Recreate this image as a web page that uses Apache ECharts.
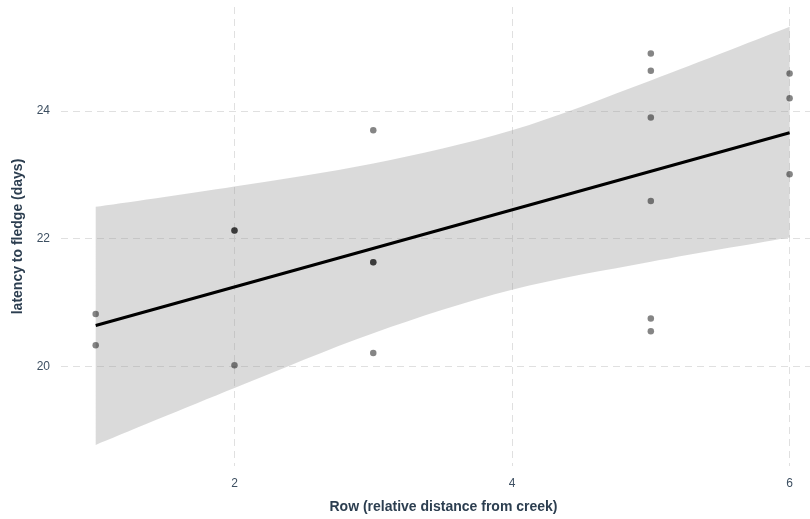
<!DOCTYPE html>
<html>
<head>
<meta charset="utf-8">
<script src="https://cdn.jsdelivr.net/npm/echarts@6/dist/echarts.min.js"></script>
<style>
html,body{margin:0;padding:0;background:#fff;}
#chart{width:810px;height:519px;}
</style>
</head>
<body>
<div id="chart"></div>
<script>
// Observations: row (x) and latency to fledge in days (y)
const rowX = [1, 1, 2, 2, 2, 3, 3, 3, 3, 5, 5, 5, 5, 5, 5, 6, 6, 6];
const latency = [20.82, 20.33, 22.13, 22.13, 20.02, 23.70, 21.63, 21.63, 20.21,
                 24.90, 24.63, 23.90, 22.59, 20.75, 20.55, 24.59, 24.20, 23.01];
// Fitted line endpoints
const fitX = [1, 6];
const fitY = [20.64, 23.66];
// Confidence band edges
const bandX = [1, 2, 3, 4, 5, 6];
const bandUpper = [22.50, 22.82, 23.18, 23.70, 24.48, 25.32];
const bandLower = [18.77, 19.66, 20.52, 21.20, 21.64, 22.02];
// Tick labels
const xTicks = [2, 4, 6];
const yTicks = [20, 22, 24];

const titleColor = '#2c3e50';
const tickColor = '#3d4f61';
const gridStyle = { color: '#e0e0e0', width: 1, type: [7, 5] };

const chart = echarts.init(document.getElementById('chart'), null, { renderer: 'canvas' });

const bandData = bandX.map((x, i) => [x, bandLower[i], bandUpper[i]]);

// smooth (Catmull-Rom style) path through pixel points
function curveThrough(pts) {
  let d = '';
  for (let i = 0; i < pts.length - 1; i++) {
    const p0 = pts[Math.max(i - 1, 0)], p1 = pts[i], p2 = pts[i + 1], p3 = pts[Math.min(i + 2, pts.length - 1)];
    const c1 = [p1[0] + (p2[0] - p0[0]) / 6, p1[1] + (p2[1] - p0[1]) / 6];
    const c2 = [p2[0] - (p3[0] - p1[0]) / 6, p2[1] - (p3[1] - p1[1]) / 6];
    d += ' C' + c1[0] + ' ' + c1[1] + ' ' + c2[0] + ' ' + c2[1] + ' ' + p2[0] + ' ' + p2[1];
  }
  return d;
}

const option = {
  animation: false,
  textStyle: { fontFamily: 'Liberation Sans, Arial, sans-serif' },
  grid: { left: 61, top: 7, right: 0, bottom: 52, containLabel: false },
  xAxis: {
    type: 'value', min: 0.75, max: 6.147,
    name: 'Row (relative distance from creek)',
    nameLocation: 'middle', nameGap: 34,
    nameTextStyle: { color: titleColor, fontSize: 14, fontWeight: 'bold', verticalAlign: 'top', padding: [0, 0, 0, 16] },
    axisLine: { show: false },
    axisTick: { show: false, customValues: xTicks },
    axisLabel: { customValues: xTicks, color: tickColor, fontSize: 12, margin: 12 },
    splitLine: { show: true, lineStyle: gridStyle }
  },
  yAxis: {
    type: 'value', min: 18.44, max: 25.63,
    name: 'latency to fledge (days)',
    nameLocation: 'middle', nameGap: 36,
    nameTextStyle: { color: titleColor, fontSize: 14, fontWeight: 'bold' },
    axisLine: { show: false },
    axisTick: { show: false, customValues: yTicks },
    axisLabel: { customValues: yTicks, color: tickColor, fontSize: 12, margin: 11 },
    splitLine: { show: true, lineStyle: gridStyle }
  },
  series: [
    {
      type: 'custom',
      z: 2,
      silent: true,
      clip: true,
      data: bandData,
      renderItem: function (params, api) {
        if (params.dataIndex !== 0) return;
        const up = bandData.map(d => api.coord([d[0], d[2]]));
        const lo = bandData.slice().reverse().map(d => api.coord([d[0], d[1]]));
        const pathData = 'M' + up[0][0] + ' ' + up[0][1] + curveThrough(up) +
          ' L' + lo[0][0] + ' ' + lo[0][1] + curveThrough(lo) + ' Z';
        return {
          type: 'path',
          shape: { pathData: pathData },
          style: { fill: 'rgba(153,153,153,0.36)', stroke: null }
        };
      }
    },
    {
      type: 'scatter',
      z: 3,
      symbolSize: 6.5,
      itemStyle: { color: 'rgba(0,0,0,0.6)' },
      data: rowX.map((x, i) => [x, latency[i]])
    },
    {
      type: 'line',
      z: 4,
      symbol: 'none',
      lineStyle: { color: '#000', width: 3 },
      data: fitX.map((x, i) => [x, fitY[i]])
    }
  ]
};
chart.setOption(option);
</script>
</body>
</html>
